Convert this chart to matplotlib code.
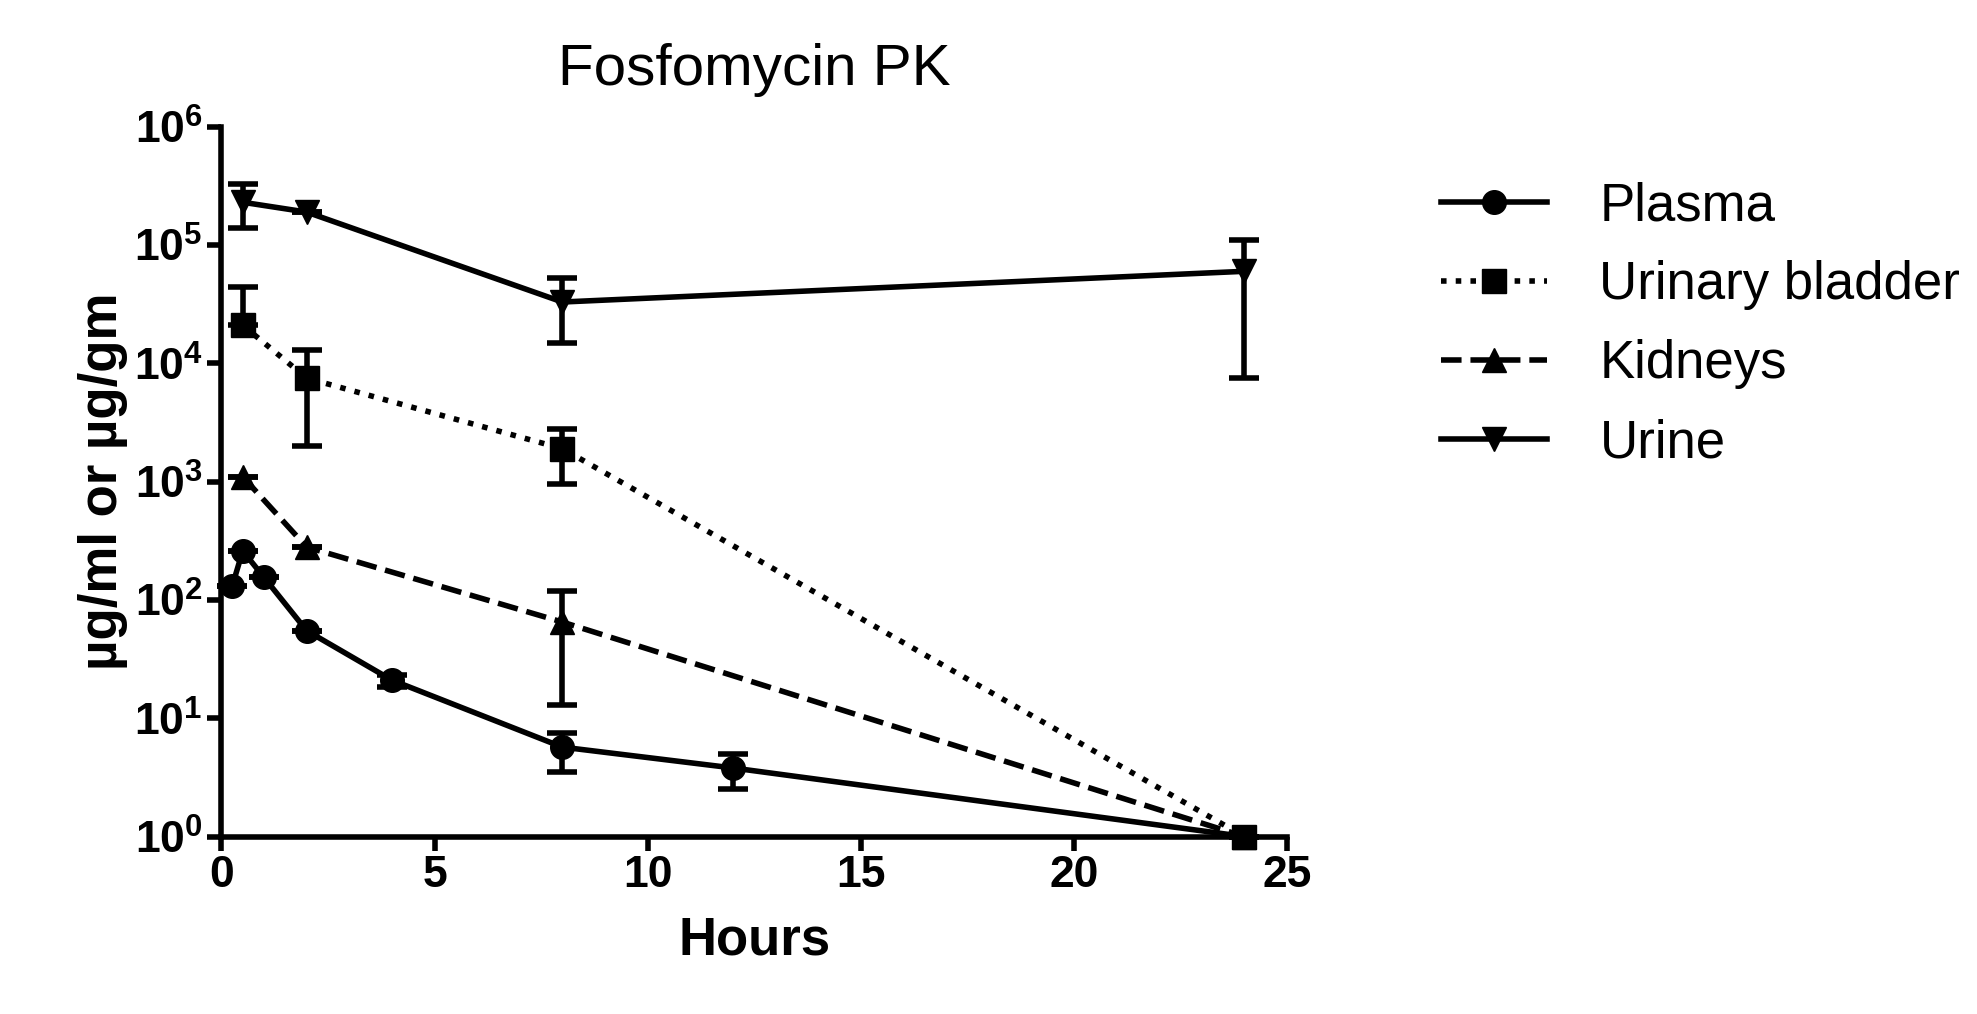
import matplotlib
matplotlib.use("Agg")
import matplotlib.pyplot as plt
from matplotlib.lines import Line2D
import numpy as np

plt.rcParams['font.family'] = ['Liberation Sans', 'DejaVu Sans']

plasma_x = [0.25, 0.5, 1, 2, 4, 8, 12, 24]
plasma_y = [130, 260, 155, 55, 21, 5.7, 3.8, 1]
plasma_lo = [130, 260, 155, 55, 18.5, 3.5, 2.5, 1]
plasma_hi = [130, 260, 155, 55, 23, 7.5, 5.0, 1]

bladder_x = [0.5, 2, 8, 24]
bladder_y = [21000, 7500, 1900, 1]
bladder_lo = [21000, 2000, 950, 1]
bladder_hi = [44000, 13000, 2800, 1]

kid_x = [0.5, 2, 8, 24]
kid_y = [1100, 280, 65, 1]
kid_lo = [1100, 280, 13, 1]
kid_hi = [1100, 280, 120, 1]

urine_x = [0.5, 2, 8, 24]
urine_y = [230000, 190000, 33000, 60000]
urine_lo = [140000, 190000, 15000, 7500]
urine_hi = [330000, 190000, 53000, 110000]

fig = plt.figure(figsize=(19.77, 10.14), dpi=100)
ax = fig.add_axes([0.112, 0.175, 0.539, 0.70])

series = [
    ("Plasma", plasma_x, plasma_y, plasma_lo, plasma_hi, 'o', '-'),
    ("Urinary bladder", bladder_x, bladder_y, bladder_lo, bladder_hi, 's', ':'),
    ("Kidneys", kid_x, kid_y, kid_lo, kid_hi, '^', '--'),
    ("Urine", urine_x, urine_y, urine_lo, urine_hi, 'v', '-'),
]
handles = []
for name, x, y, lo, hi, m, ls in series:
    y = np.array(y, float)
    yerr = [y - np.array(lo, float), np.array(hi, float) - y]
    ax.errorbar(x, y, yerr=yerr, color='black', marker=m, ms=17, lw=4, ls=ls,
                elinewidth=4, capsize=11, capthick=4, clip_on=False)
    handles.append(Line2D([], [], color='black', marker=m, ms=17, lw=4, ls=ls, label=name))

ax.set_yscale('log')
ax.set_xlim(0, 25)
ax.set_ylim(1, 1e6)
ax.set_xticks([0, 5, 10, 15, 20, 25])
ax.set_yticks([10.0**k for k in range(7)])
ax.minorticks_off()
for s in ['top', 'right']:
    ax.spines[s].set_visible(False)
for s in ['left', 'bottom']:
    ax.spines[s].set_linewidth(4)
ax.tick_params(width=4, length=10, labelsize=32)
for lab in ax.get_xticklabels() + ax.get_yticklabels():
    lab.set_fontweight('bold')
ax.set_xlabel("Hours", fontsize=38, fontweight='bold', labelpad=14)
ax.set_ylabel("µg/ml or µg/gm", fontsize=38, fontweight='bold')
ax.set_title("Fosfomycin PK", fontsize=42, pad=30)
ax.legend(handles=handles, loc='upper left', bbox_to_anchor=(1.1, 0.99), frameon=False, fontsize=38,
          handlelength=2.0, labelspacing=0.55, handletextpad=1.0)

fig.savefig("out.png", dpi=100)
